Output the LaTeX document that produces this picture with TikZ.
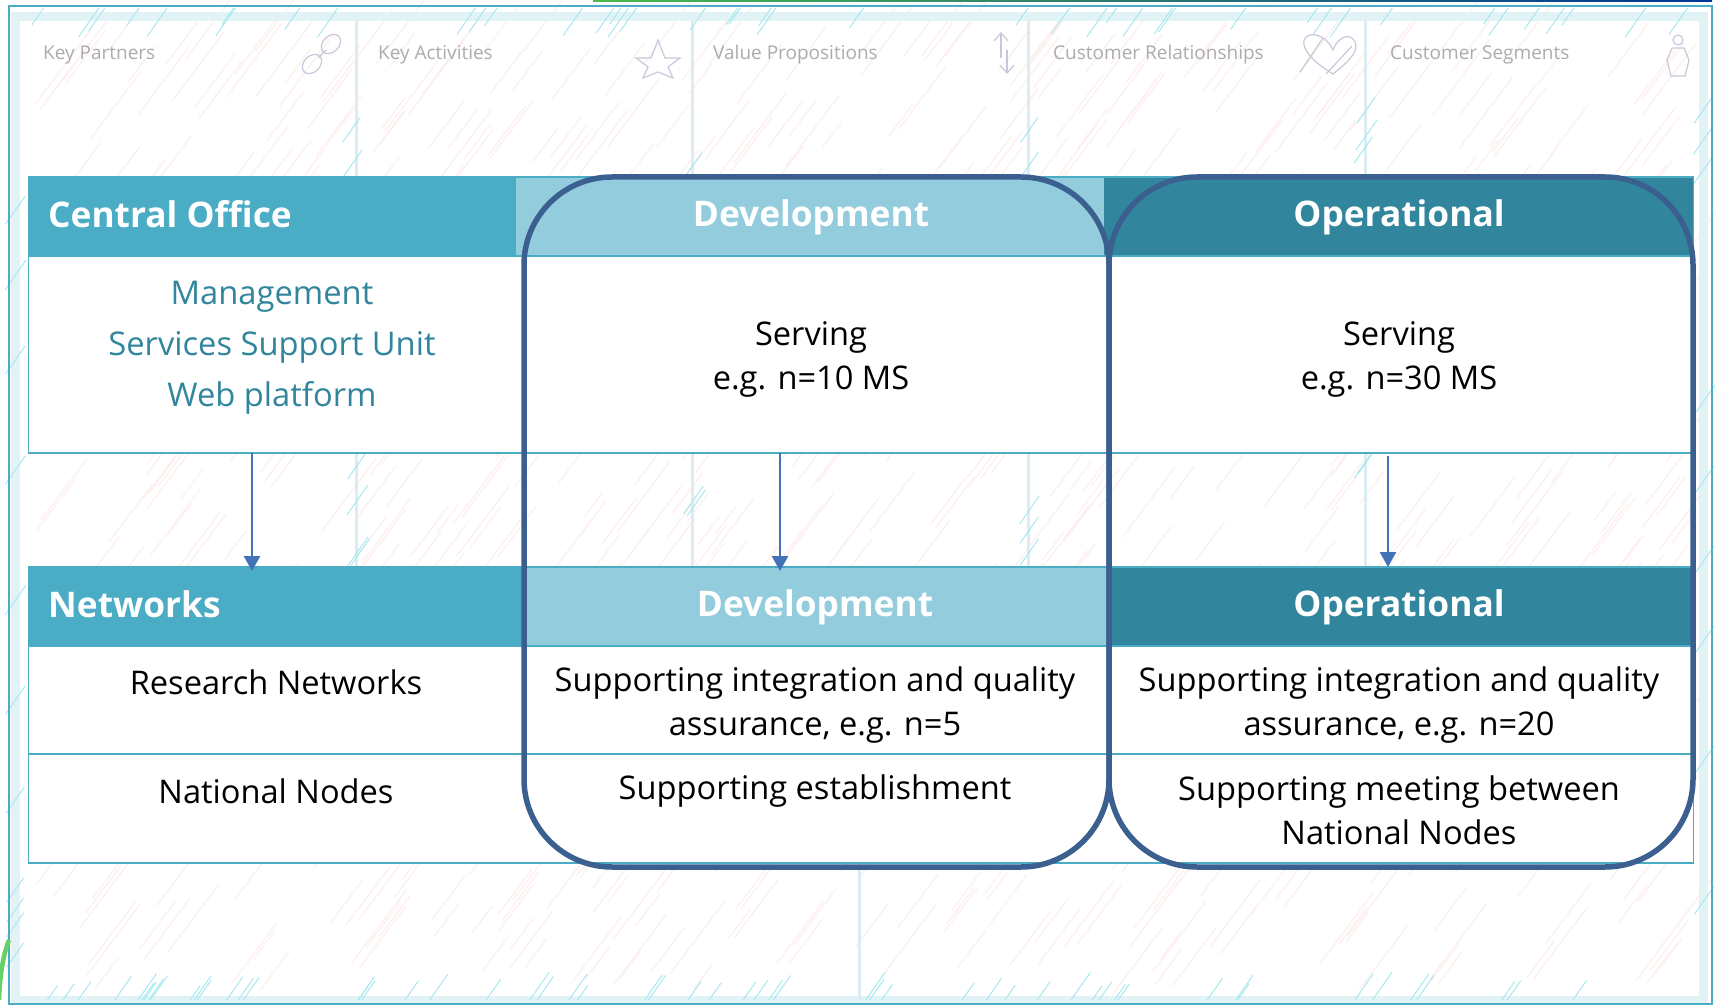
\documentclass[tikz,border=0pt]{standalone}
\usepackage{fontspec}
\setmainfont{Open Sans}
\usetikzlibrary{arrows.meta}
\definecolor{hdrA}{HTML}{4BACC6}
\definecolor{hdrB}{HTML}{93CDDD}
\definecolor{hdrC}{HTML}{31859C}
\definecolor{rim}{HTML}{3B6090}
\definecolor{arr}{HTML}{4472B8}
\definecolor{wmtext}{HTML}{ABABB0}
\definecolor{wmicon}{HTML}{C8C8DC}
\definecolor{wmline}{HTML}{DCECF2}
\definecolor{band}{HTML}{E2F3F6}
\definecolor{pinkh}{HTML}{FDEFED}
\definecolor{cyanh}{HTML}{A8E8F0}
\tikzset{
  x=1pt,y=-1pt,
  hdr/.style={font=\fontsize{35.3}{40}\selectfont\bfseries,text=white,inner sep=0pt},
  body/.style={font=\fontsize{32.6}{44}\selectfont,text=black,align=center,inner sep=0pt},
  teal/.style={font=\fontsize{32.7}{51}\selectfont,text=hdrC,align=center,inner sep=0pt},
  wm/.style={font=\fontsize{19}{22}\selectfont,text=wmtext,anchor=west,inner sep=0pt},
  grid/.style={draw=hdrA,line width=1.6pt},
  pill/.style={draw=rim,line width=5.5pt,rounded corners=88pt},
  flow/.style={draw=arr,line width=2.5pt,-{Triangle[length=15pt,width=16pt]}},
  icon/.style={draw=wmicon,line width=1.2pt},
}
\begin{document}
\begin{tikzpicture}
\useasboundingbox (0,0) rectangle (1716,1008);
\fill[white] (0,0) rectangle (1716,1008);
% watermark hatching
\pgfmathsetseed{42}
\foreach \i in {1,...,950}{
  \pgfmathsetmacro{\hx}{25+rnd*1650}
  \pgfmathsetmacro{\hy}{50+rnd*945}
  \pgfmathsetmacro{\hl}{25+rnd*50}
  \draw[pinkh,line width=1.2pt] (\hx,\hy) -- ++(\hl*0.75,-\hl);
}
% frame band and canvas lines
\draw[band,line width=9pt] (15,17) rectangle (1703,1000);
\draw[wmline,line width=3pt] (356,20) -- (356,567);
\draw[wmline,line width=3pt] (692,20) -- (692,567);
\draw[wmline,line width=3pt] (1028,20) -- (1028,567);
\draw[wmline,line width=3pt] (1365,20) -- (1365,567);
\draw[wmline,line width=3pt] (859,860) -- (859,1000);
% cyan strokes along top and bottom
\pgfmathsetseed{7}
\foreach \i in {1,...,42}{
  \pgfmathsetmacro{\hx}{25+rnd*1670}
  \pgfmathsetmacro{\hl}{14+rnd*16}
  \draw[cyanh,line width=1pt] (\hx,8+\hl) -- ++(\hl*0.7,-\hl);
}
\foreach \i in {1,...,55}{
  \pgfmathsetmacro{\hx}{15+rnd*1680}
  \pgfmathsetmacro{\hl}{14+rnd*14}
  \draw[cyanh,line width=1pt] (\hx,1000) -- ++(\hl*0.7,-\hl);
}
% cyan strokes along the vertical lines and sides
\foreach \cx/\cy/\cl in {
  350/130/25, 350/165/30, 345/250/32, 347/265/28, 350/270/22, 356/285/30,
  692/165/25, 1028/130/25, 1028/165/25, 1365/110/26, 1365/135/30, 1362/150/26,
  356/465/28, 356/500/30, 356/552/30, 359/552/26, 692/500/28, 695/503/26, 1028/510/28,
  1028/530/26, 1028/552/26, 1365/462/24, 1362/465/26,
  14/210/28, 14/275/30, 14/360/28, 14/470/28, 14/600/30, 14/700/28, 14/800/26,
  14/890/24, 14/910/24, 14/925/24, 14/955/24,
  1702/110/26, 1702/140/28, 1702/170/26, 1703/400/30, 1703/480/28, 1703/560/28,
  1703/640/28, 1703/760/28, 1703/900/28}{
  \draw[cyanh,line width=1pt] (\cx-\cl*0.3,\cy+\cl/2) -- ++(\cl*0.7,-\cl);
}
% outer frame
\draw[hdrA,line width=1.6pt] (9,6) rectangle (1712,1004);
% top and left edge pieces
\shade[left color=green!60!black!70!white,right color=blue!50!black!80!cyan] (593,0) rectangle (1712,1.5);
\draw[green!70!black!60!white,line width=4.5pt] (-1,1000) .. controls (0,975) and (3,955) .. (9,940);
% canvas labels
\node[wm] (kp) at (43,55) {Key Partners};
\node[wm] (ka) at (378,55) {Key Activities};
\node[wm] (vp) at (713,55) {Value Propositions};
\node[wm] (cr) at (1053,55) {Customer Relationships};
\node[wm] (cs) at (1390,55) {Customer Segments};
% link icon
\draw[icon,rotate around={-45:(312,64)}] (312,64) ellipse (8 and 11);
\draw[icon,rotate around={-45:(331,44)}] (331,44) ellipse (8 and 11);
\draw[icon] (318,58) -- (326,50);
% star icon
\draw[icon] (658,40)--(665,58)--(680,58)--(668,67)--(673,78)--(658,72)--(643,78)--(648,67)--(636,58)--(651,58)--cycle;
% up and down arrows
\draw[icon,-{Straight Barb[length=8pt,width=14pt]}] (1001,58) -- (1001,32);
\draw[icon,-{Straight Barb[length=8pt,width=14pt]}] (1007,50) -- (1007,74);
% heart icon
\draw[icon] (1333,74) .. controls (1293,50) and (1301,32) .. (1316,35) .. controls (1325,37) and (1331,45) .. (1333,50) .. controls (1336,40) and (1349,30) .. (1355,42) .. controls (1359,52) and (1348,62) .. (1333,74) -- cycle;
\draw[icon] (1300,72) -- (1323,38);
\draw[icon] (1326,74) -- (1352,46);
% person icon
\draw[icon] (1678,40) circle (5);
\draw[icon] (1672,48) -- (1667,60) -- (1671,76) -- (1685,76) -- (1689,60) -- (1684,48) -- cycle;
% table white cells
\fill[white] (28.5,256) rectangle (1693.5,453);
\fill[white] (28.5,646) rectangle (1693.5,863);
% headers
\fill[hdrA] (28.5,177) rectangle (516,256);
\fill[hdrB] (516,177) rectangle (1104,256);
\fill[hdrC] (1104,177) rectangle (1693.5,256);
\fill[hdrA] (28.5,567) rectangle (525,646);
\fill[hdrB] (525,567) rectangle (1108,646);
\fill[hdrC] (1108,567) rectangle (1693.5,646);
% grid
\draw[grid] (28.5,177) rectangle (1693.5,256);
\draw[grid] (28.5,256) -- (28.5,453) -- (1693.5,453) -- (1693.5,256);
\draw[grid] (28.5,567) rectangle (1693.5,646);
\draw[grid] (28.5,646) rectangle (1693.5,863);
\draw[grid] (28.5,754) -- (1693.5,754);
% arrows
\coordinate (a1s) at (252,453); \coordinate (a1e) at (252,571);
\coordinate (a2s) at (780,453); \coordinate (a2e) at (780,571);
\coordinate (a3s) at (1388,456); \coordinate (a3e) at (1388,567);
\draw[flow] (a1s) -- (a1e);
\draw[flow] (a2s) -- (a2e);
\draw[flow] (a3s) -- (a3e);
% texts
\node[hdr,anchor=west] (co) at (48,214) {Central Office};
\node[hdr] (d1) at (811,217) {Development};
\node[hdr] (o1) at (1399,217) {Operational};
\node[teal] (mg) at (272,348) {Management\\Services Support Unit\\Web platform};
\node[body] (s1) at (811,359) {Serving\\e.g. n=10 MS};
\node[body] (s2) at (1399,359) {Serving\\e.g. n=30 MS};
\node[hdr,anchor=west] (nw) at (48,604) {Networks};
\node[hdr] (d2) at (815,607) {Development};
\node[hdr] (o2) at (1399,607) {Operational};
\node[body] (rn) at (276,682) {Research Networks};
\node[body] (nn) at (276,791) {National Nodes};
\node[body] (si1) at (815,705) {Supporting integration and quality\\assurance, e.g. n=5};
\node[body] (si2) at (1399,705) {Supporting integration and quality\\assurance, e.g. n=20};
\node[body] (se) at (815,791) {Supporting establishment};
\node[body] (sm) at (1399,810) {Supporting meeting between\\National Nodes};
% rounded outlines
\draw[pill] (524,177) rectangle (1109,867);
\draw[pill] (1109,177) rectangle (1693,867);
\end{tikzpicture}
\end{document}
